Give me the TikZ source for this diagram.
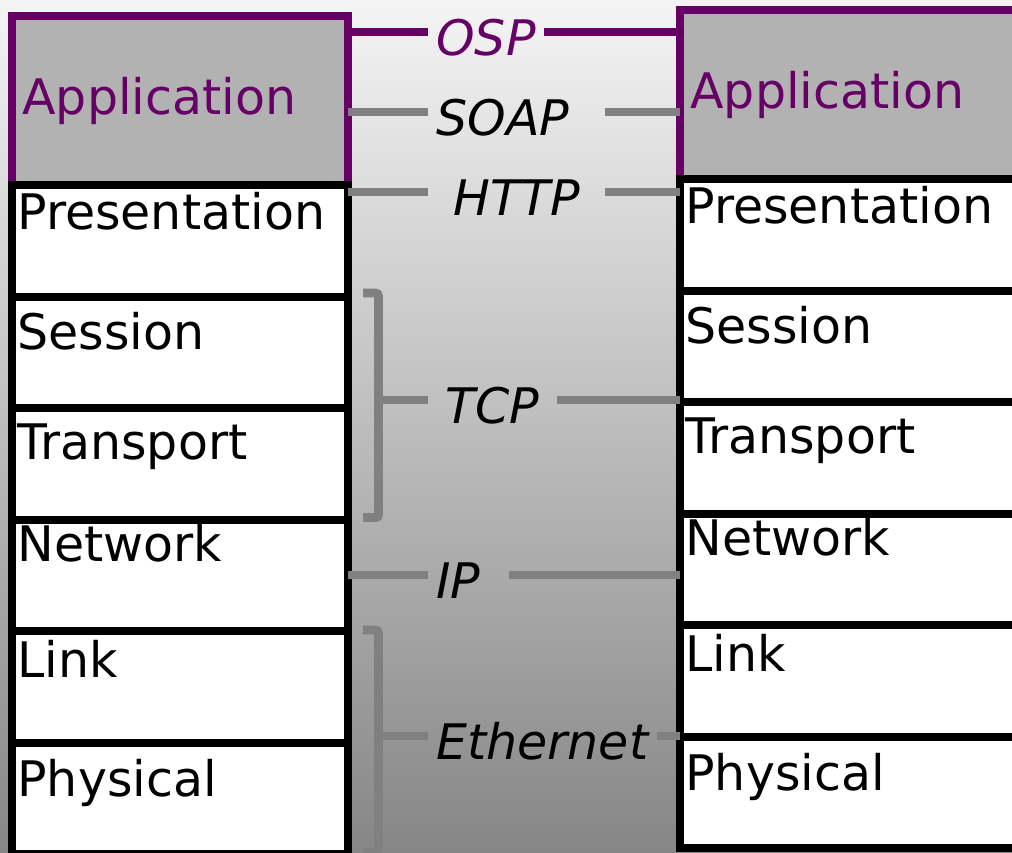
\documentclass[tikz,border=0pt]{standalone}
\usepackage{fontspec}
\setmainfont{DejaVu Sans}
\usetikzlibrary{positioning}

\definecolor{ospviolet}{RGB}{102,0,102}
\definecolor{appgray}{RGB}{178,178,178}
\definecolor{wiregray}{RGB}{128,128,128}
\definecolor{bgtop}{RGB}{244,244,244}
\definecolor{bgbottom}{RGB}{134,134,134}

\tikzset{
  layerbox/.style={draw=black, fill=white, line width=4pt, inner sep=0pt, outer sep=0pt,
    minimum width=168pt, minimum height=55.75pt},
  appbox/.style={layerbox, draw=ospviolet, fill=appgray, minimum height=84.5pt},
  lyrname/.style={anchor=north west, inner xsep=2.5pt, inner ysep=1.75pt,
    font=\fontsize{24.5}{29}\selectfont},
  appname/.style={lyrname, anchor=west, inner xsep=5pt, text=ospviolet},
  proto/.style={anchor=west, inner xsep=4pt, inner ysep=0pt, text height=23.3pt, text depth=0pt,
    font=\fontsize{24.5}{29}\selectfont\itshape},
  conn/.style={draw=wiregray, line width=3.8pt},
  brk/.style={draw=wiregray, line width=4.4pt, rounded corners=1.5pt},
}

\begin{document}
\begin{tikzpicture}[x=0.5pt, y=-0.5pt]
\useasboundingbox (0,0) rectangle (1012,852);
\clip (0,0) rectangle (1012,852);
\shade[top color=bgtop, bottom color=bgbottom] (0,0) rectangle (1012,852);

% left stack
\node[appbox, label={[appname]west:Application}] (lapp) at (180,100.5) {};
\node[layerbox, below=0pt of lapp, label={[lyrname,yshift=-1.5pt]north west:Presentation}] (lpres) {};
\node[layerbox, below=0pt of lpres, label={[lyrname,yshift=-5.75pt]north west:Session}] (lsess) {};
\node[layerbox, below=0pt of lsess, label={[lyrname,yshift=-5.75pt]north west:Transport}] (ltrans) {};
\node[layerbox, below=0pt of ltrans, label={[lyrname,yshift=-0.25pt]north west:Network}] (lnet) {};
\node[layerbox, below=0pt of lnet, label={[lyrname,yshift=-2.75pt]north west:Link}] (llink) {};
\node[layerbox, below=0pt of llink, label={[lyrname,yshift=-6.25pt]north west:Physical}] (lphys) {};

% right stack
\node[appbox, label={[appname]west:Application}] (rapp) at (848,94.5) {};
\node[layerbox, below=0pt of rapp, label={[lyrname,yshift=-1.5pt]north west:Presentation}] (rpres) {};
\node[layerbox, below=0pt of rpres, label={[lyrname,yshift=-5.75pt]north west:Session}] (rsess) {};
\node[layerbox, below=0pt of rsess, label={[lyrname,yshift=-5.75pt]north west:Transport}] (rtrans) {};
\node[layerbox, below=0pt of rtrans, label={[lyrname,yshift=-0.25pt]north west:Network}] (rnet) {};
\node[layerbox, below=0pt of rnet, label={[lyrname,yshift=-2.75pt]north west:Link}] (rlink) {};
\node[layerbox, below=0pt of rlink, label={[lyrname,yshift=-6.25pt]north west:Physical}] (rphys) {};

% protocol names
\node[proto, text=ospviolet] (osp) at (428,32) {OSP};
\node[proto, text width=80pt] (soap) at (428,112) {SOAP};
\node[proto, text width=80pt, align=center] (http) at (428,192) {HTTP};
\node[proto, text width=56pt, align=center] (tcp) at (428,400) {TCP};
\node[proto, text width=32pt] (ip) at (428,575) {IP};
\node[proto] (eth) at (428,736) {Ethernet};

% brackets over session+transport and link+physical
\draw[brk] (363,293) -| (378.5,517.5) -- (363,517.5);
\draw[brk] (363,630) -| (378.5,852) -- (363,852);
\coordinate (tcpbr) at (378.5,400);
\coordinate (ethbr) at (378.5,736);

\path[conn, draw=ospviolet, line width=4pt] (osp) edge (lapp.east |- osp) edge (rapp.west |- osp);
\path[conn] (soap) edge (lapp.east |- soap) edge (rapp.west |- soap);
\path[conn] (http) edge (lpres.east |- http) edge (rpres.west |- http);
\path[conn] (tcp) edge (tcpbr) edge (rtrans.west |- tcp);
\path[conn] (ip) edge (lnet.east |- ip) edge (rnet.west |- ip);
\path[conn] (eth) edge (ethbr) edge (rphys.west |- eth);
\end{tikzpicture}
\end{document}
